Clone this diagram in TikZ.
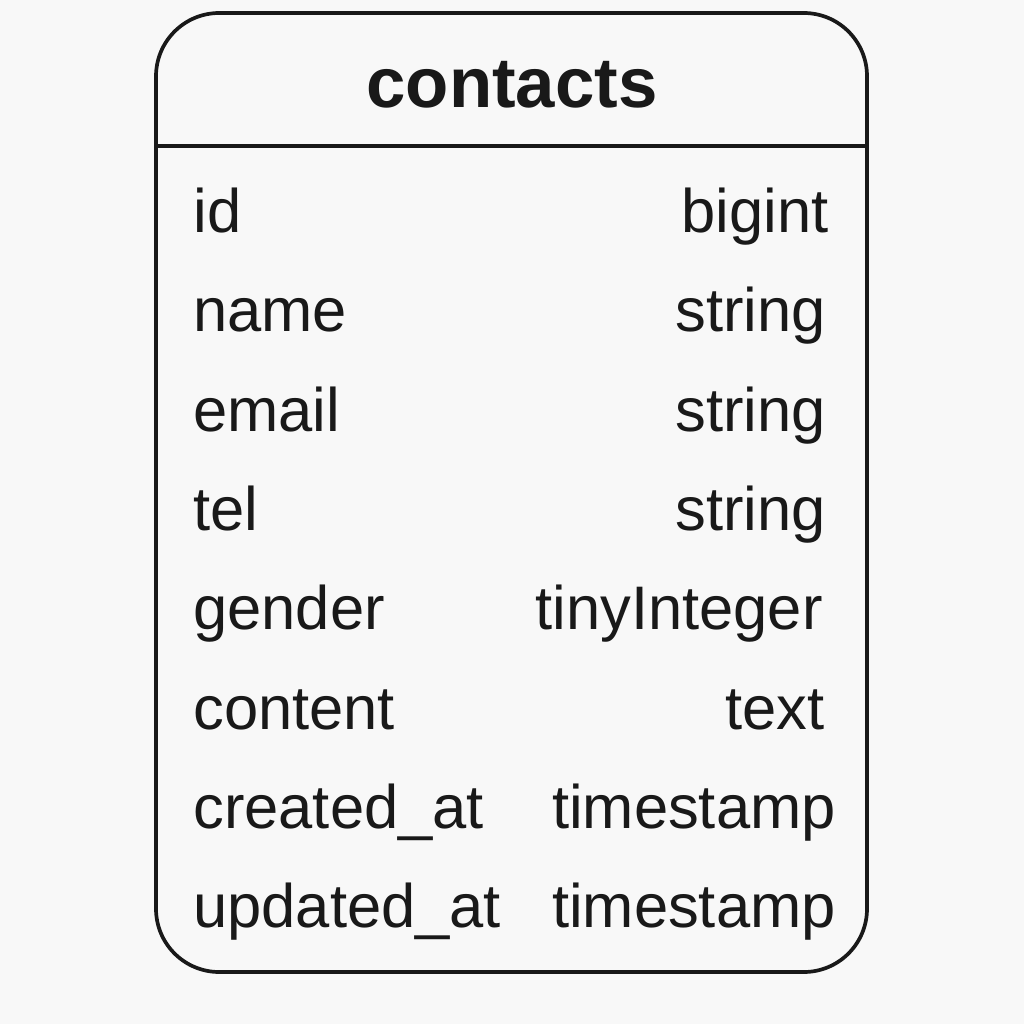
\documentclass[tikz,border=0pt]{standalone}
\usepackage{fontspec}
\setmainfont{Liberation Sans}
\usepackage{tikz}
\definecolor{bgcol}{rgb}{0.973,0.973,0.973}
\definecolor{inkcol}{rgb}{0.1,0.1,0.1}
\tikzset{
  fieldname/.style={anchor=base west,inner sep=0pt,text=inkcol,font=\fontsize{35}{40}\selectfont},
  fieldtype/.style={anchor=base east,inner sep=0pt,text=inkcol,font=\fontsize{35}{40}\selectfont},
  tabletitle/.style={anchor=base,inner sep=0pt,text=inkcol,font=\bfseries\fontsize{40.3}{46}\selectfont}
}
\begin{document}
\begin{tikzpicture}[line cap=round,line join=round,x=0.02cm,y=-0.02cm]
\fill[bgcol] (0,0) rectangle (1024,1024);
\useasboundingbox (0,0) rectangle (1024,1024);
% table frame
\draw[line width=2.1pt,color=inkcol,rounded corners=36] (156,13) rectangle (867,972);
\draw[line width=2.1pt,color=inkcol] (158,146) -- (865,146);
\node[tabletitle] (title) at (512,108) {contacts};
% fields
\node[fieldname] (idname) at (193,232) {id};
\node[fieldtype] (idtype) at (829,232) {bigint};
\node[fieldname] (namename) at (193,331) {name};
\node[fieldtype] (nametype) at (826,331) {string};
\node[fieldname] (emailname) at (193,431) {email};
\node[fieldtype] (emailtype) at (826,431) {string};
\node[fieldname] (telname) at (193,530) {tel};
\node[fieldtype] (teltype) at (826,530) {string};
\node[fieldname] (gendername) at (193,629) {gender};
\node[fieldtype] (gendertype) at (823,629) {tinyInteger};
\node[fieldname] (contentname) at (193,729) {content};
\node[fieldtype] (contenttype) at (825,729) {text};
\node[fieldname] (createdname) at (193,828) {created\_at};
\node[fieldtype] (createdtype) at (836,828) {timestamp};
\node[fieldname] (updatedname) at (193,927) {updated\_at};
\node[fieldtype] (updatedtype) at (836,927) {timestamp};
\end{tikzpicture}
\end{document}
